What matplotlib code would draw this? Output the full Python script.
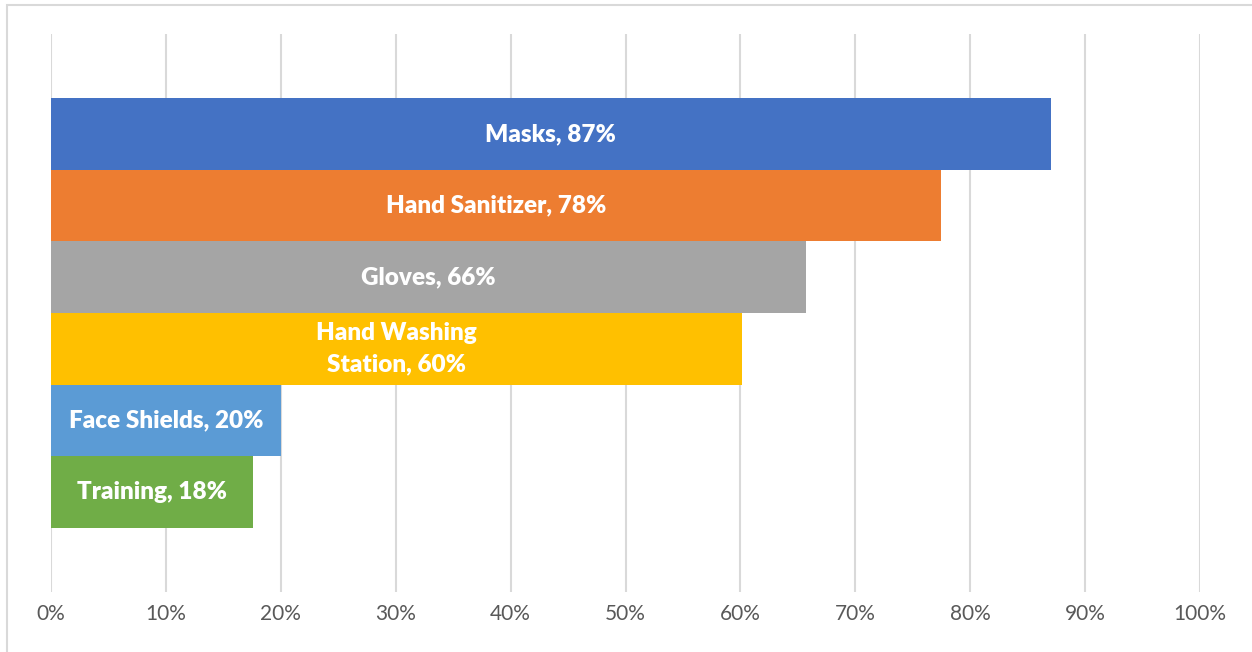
import numpy
import matplotlib
import matplotlib.pyplot as plt
from matplotlib.patches import Rectangle

matplotlib.use("agg")

categories = ["Masks", "Hand Sanitizer", "Gloves", "Hand Washing\nStation", "Face Shields", "Training"]
percentages = [87.0, 77.5, 65.7, 60.1, 20.0, 17.6]
bar_colors = ["#4472C4", "#ED7D31", "#A5A5A5", "#FFC000", "#5B9BD5", "#70AD47"]
tick_values = numpy.arange(0, 101, 10)
tick_labels = [f"{t}%" for t in tick_values]

plt.rcParams["font.family"] = ["Lato", "DejaVu Sans"]

fig = plt.figure(figsize=(12.52, 6.52), dpi=100)
ax = fig.add_axes([51 / 1252, 1 - 592 / 652, 1149 / 1252, 558 / 652])

# Moldura cinza do gráfico
fig.patches.append(Rectangle((7 / 1252, -0.1), 1.2, 1.1 - 5 / 652, transform=fig.transFigure,
                             fill=False, edgecolor="#D9D9D9", linewidth=1.5))

positions = numpy.arange(len(categories))
ax.barh(positions, percentages, height=1.0, color=bar_colors, zorder=2)

# Rótulos centralizados dentro de cada barra
for pos, name, value in zip(positions, categories, percentages):
    ax.text(value / 2, pos, f"{name}, {value:.0f}%", ha="center", va="center",
            color="white", fontsize=17.5, fontweight="heavy", linespacing=1.55, zorder=3)

ax.set_xlim(0, 100)
ax.set_ylim(len(categories) - 0.5 + 0.9, -0.5 - 0.9)
ax.set_xticks(tick_values)
ax.set_xticklabels(tick_labels, color="#595959", fontsize=15)
ax.set_yticks([])
ax.tick_params(axis="x", length=0, pad=9)
ax.grid(axis="x", color="#D9D9D9", linewidth=1.5, zorder=0)
for spine in ax.spines.values():
    spine.set_visible(False)

plt.savefig("out.png", dpi=100)
